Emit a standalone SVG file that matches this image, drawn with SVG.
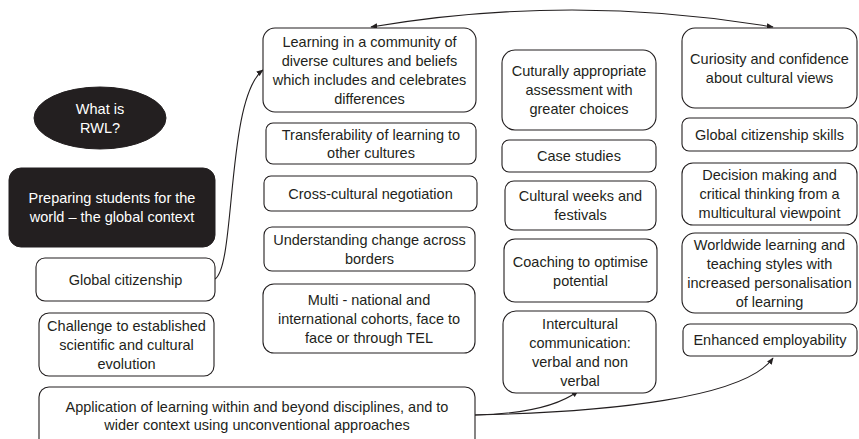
<svg xmlns="http://www.w3.org/2000/svg" width="859" height="439" viewBox="0 0 859 439">
<style>
.box{fill:#fff;stroke:#231f20;stroke-width:1.1}
.dark{fill:#231f20;stroke:#231f20}
text{font-family:"Liberation Sans",Arial,sans-serif;font-size:14.5px;fill:#231f20;text-anchor:middle}
.w{fill:#fff}
.con{fill:none;stroke:#231f20;stroke-width:1.1}
</style>
<defs>
<marker id="ah" viewBox="0 0 10 10" refX="9" refY="5" markerWidth="7" markerHeight="7" orient="auto-start-reverse" markerUnits="userSpaceOnUse">
<path d="M0,1 L10,5 L0,9 z" fill="#231f20"/>
</marker>
</defs>
<rect width="859" height="439" fill="#fff"/>

<g id="connectors">
<path class="con" d="M371,27 Q572,-7 773,27" marker-start="url(#ah)" marker-end="url(#ah)"/>
<path class="con" d="M215,279 C236,266 226,98 263,70" marker-end="url(#ah)"/>
<path class="con" d="M475,415 C520,414 556,408 578,391" marker-end="url(#ah)"/>
<path class="con" d="M475,415 C610,412 745,398 773,358" marker-end="url(#ah)"/>
</g>

<g id="rwl"><ellipse class="dark" cx="100" cy="118" rx="66" ry="31"/>
<text class="w" x="100" y="113.5">What is</text><text class="w" x="100" y="132.5">RWL?</text></g>

<g id="preparing"><rect class="dark" x="9" y="168" width="206" height="79" rx="12"/>
<text class="w" x="112" y="203">Preparing students for the</text><text class="w" x="112" y="222">world – the global context</text></g>

<g id="global-citizenship"><rect class="box" x="36" y="258" width="179" height="43" rx="9"/>
<text x="125.5" y="284.5">Global citizenship</text></g>

<g id="challenge"><rect class="box" x="39" y="313" width="175" height="63" rx="10"/>
<text x="126.5" y="330.5">Challenge to established</text><text x="126.5" y="349.5">scientific and cultural</text><text x="126.5" y="368.5">evolution</text></g>

<g id="application"><rect class="box" x="39" y="387" width="436" height="62" rx="10"/>
<text x="257" y="412">Application of learning within and beyond disciplines, and to</text><text x="257" y="430">wider context using unconventional approaches</text></g>

<g id="learning"><rect class="box" x="263" y="28" width="213" height="84" rx="12"/>
<text x="369.5" y="46.5">Learning in a community of</text><text x="369.5" y="65.5">diverse cultures and beliefs</text><text x="369.5" y="84.5">which includes and celebrates</text><text x="369.5" y="103.5">differences</text></g>

<g id="transferability"><rect class="box" x="266" y="123" width="210" height="41" rx="7"/>
<text x="371" y="139.5">Transferability of learning to</text><text x="371" y="158">other cultures</text></g>

<g id="cross-cultural"><rect class="box" x="264" y="176" width="213" height="35" rx="7"/>
<text x="370.5" y="198.5">Cross-cultural negotiation</text></g>

<g id="understanding"><rect class="box" x="264" y="227" width="211" height="44" rx="8"/>
<text x="369.5" y="244.5">Understanding change across</text><text x="369.5" y="263.5">borders</text></g>

<g id="multi"><rect class="box" x="263" y="284" width="212" height="69" rx="11"/>
<text x="369" y="305">Multi - national and</text><text x="369" y="324">international cohorts, face to</text><text x="369" y="343">face or through TEL</text></g>

<g id="assessment"><rect class="box" x="502" y="50" width="154" height="80" rx="13"/>
<text x="579" y="76">Cuturally appropriate</text><text x="579" y="95">assessment with</text><text x="579" y="114">greater choices</text></g>

<g id="case-studies"><rect class="box" x="502" y="140" width="154" height="32" rx="7"/>
<text x="579" y="161">Case studies</text></g>

<g id="cultural-weeks"><rect class="box" x="505" y="181" width="151" height="49" rx="9"/>
<text x="580.5" y="201">Cultural weeks and</text><text x="580.5" y="220">festivals</text></g>

<g id="coaching"><rect class="box" x="504" y="239" width="153" height="63" rx="11"/>
<text x="580.5" y="266.5">Coaching to optimise</text><text x="580.5" y="285.5">potential</text></g>

<g id="intercultural"><rect class="box" x="503" y="311" width="153" height="82" rx="13"/>
<text x="580" y="329">Intercultural</text><text x="580" y="348">communication:</text><text x="580" y="367">verbal and non</text><text x="580" y="386">verbal</text></g>

<g id="curiosity"><rect class="box" x="682" y="28" width="175" height="80" rx="13"/>
<text x="769.5" y="63.5">Curiosity and confidence</text><text x="769.5" y="82.5">about cultural views</text></g>

<g id="gc-skills"><rect class="box" x="682" y="118" width="175" height="33" rx="7"/>
<text x="769.5" y="139.5">Global citizenship skills</text></g>

<g id="decision"><rect class="box" x="682" y="163" width="175" height="62" rx="11"/>
<text x="769.5" y="180">Decision making and</text><text x="769.5" y="199">critical thinking from a</text><text x="769.5" y="218">multicultural viewpoint</text></g>

<g id="worldwide"><rect class="box" x="682" y="233" width="175" height="80" rx="13"/>
<text x="769.5" y="249.5">Worldwide learning and</text><text x="769.5" y="268.5">teaching styles with</text><text x="769.5" y="287.5">increased personalisation</text><text x="769.5" y="306.5">of learning</text></g>

<g id="employability"><rect class="box" x="683" y="324" width="174" height="32" rx="7"/>
<text x="770" y="345">Enhanced employability</text></g>
</svg>
